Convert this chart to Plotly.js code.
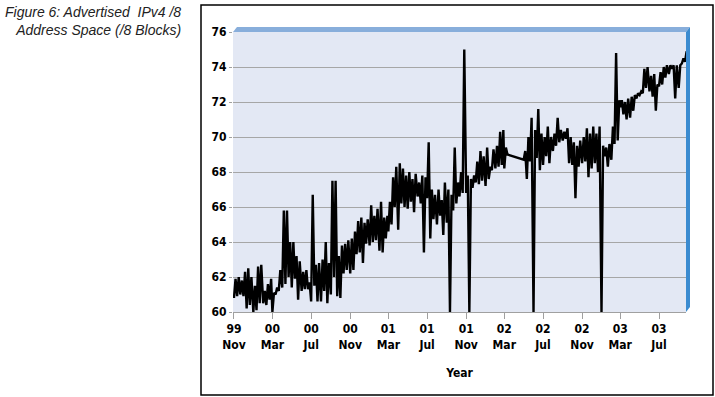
<!DOCTYPE html>
<html>
<head>
<meta charset="utf-8">
<script src="https://cdn.plot.ly/plotly-3.0.1.min.js"></script>
<style>html,body{margin:0;padding:0;background:#fff;}#chart{width:715px;height:397px;}</style>
</head>
<body>
<div id="chart"></div>
<script>
// Months covered by the series (3 samples per month: days 01, 11, 21)
var months = ["1999-11","1999-12","2000-01","2000-02","2000-03","2000-04","2000-05","2000-06","2000-07","2000-08","2000-09","2000-10",
  "2000-11","2000-12","2001-01","2001-02","2001-03","2001-04","2001-05","2001-06","2001-07","2001-08","2001-09","2001-10",
  "2001-11","2001-12","2002-01","2002-02","2002-03","2002-04","2002-05","2002-06","2002-07","2002-08","2002-09","2002-10",
  "2002-11","2002-12","2003-01","2003-02","2003-03","2003-04","2003-05","2003-06","2003-07","2003-08","2003-09"];
var sampleDays = ["01","11","21"];

// Low / high of advertised /8 blocks in each ~10-day period
var lows = [
  60.8,60.9,61.0, 60.9,60.2,60.4, 60.0,60.1,60.5, 60.5,60.4,60.7, 60.0,61.0,61.2, 61.4,61.6,62.0,
  61.4,61.9,60.7, 61.2,61.3,61.3, 60.6,61.5,60.6, 60.6,61.2,60.5, 61.0,62.0,60.9, 60.8,62.2,62.4,
  62.2,62.4,63.3, 63.4,62.8,63.9, 63.8,64.0,64.1, 63.5,63.4,64.2, 64.6,65.0,66.0, 64.7,66.2,66.0,
  65.9,66.3,65.7, 66.6,66.2,63.4, 66.5,64.2,65.3, 65.0,65.5,64.4, 65.1,60.0,65.8, 66.2,66.6,66.8,
  66.8,60.0,67.1, 67.4,67.3,67.5, 67.2,67.6,68.1, 68.2,68.3,68.4, 68.2,69.0,null, null,null,null,
  68.7,67.6,68.6, 60.0,68.8,68.1, 68.4,68.9,68.5, 69.2,69.5,69.7, 69.8,69.9,68.5, 68.4,66.5,68.3,
  68.5,68.6,67.7, 68.2,68.5,68.0, 60.0,68.9,68.3, 68.7,69.6,69.8, 71.7,71.3,71.0, 71.1,71.5,72.2,
  72.4,72.5,72.8, 72.6,72.3,71.5, 72.9,73.0,73.4, 73.6,73.9,72.2, 72.8,74.2,74.3];
var highs = [
  61.9,62.0,61.8, 62.3,62.5,62.0, 61.5,62.6,62.7, 61.2,61.6,61.9, 61.1,61.4,62.4, 65.8,65.8,64.0,
  64.0,63.2,62.9, 62.3,62.4,61.7, 66.7,62.7,62.8, 63.0,64.0,62.8, 67.5,67.5,63.2, 63.8,63.9,64.1,
  64.2,64.6,65.2, 65.4,65.1,65.3, 66.1,65.5,65.9, 66.3,65.4,65.5, 66.3,67.7,68.3, 68.5,68.2,67.8,
  68.0,67.6,67.9, 67.4,67.8,67.7, 69.7,67.0,66.7, 67.0,66.4,67.4, 67.0,66.7,69.4, 67.4,68.0,75.0,
  67.8,67.6,67.8, 68.6,69.2,68.9, 69.4,68.3,69.3, 69.5,70.3,70.4, 69.4,null,null, null,null,null,
  69.2,70.0,71.1, 70.4,71.6,70.2, 70.0,70.6,70.0, 70.2,71.1,70.4, 70.3,70.5,70.0, 69.7,69.5,69.8,
  70.0,70.5,70.2, 70.6,70.2,70.6, 69.5,69.4,69.6, 70.6,74.8,72.1, 72.1,72.0,72.2, 72.3,72.4,72.5,
  72.6,73.9,74.0, 73.5,73.6,73.0, 73.7,74.0,74.1, 74.1,74.1,74.1, 74.1,74.5,74.9];

var tickDates = ["1999-11-01","2000-03-01","2000-07-01","2000-11-01","2001-03-01","2001-07-01",
  "2001-11-01","2002-03-01","2002-07-01","2002-11-01","2003-03-01","2003-07-01"];
var tickLabels = ["99<br>Nov","00<br>Mar","00<br>Jul","00<br>Nov","01<br>Mar","01<br>Jul",
  "01<br>Nov","02<br>Mar","02<br>Jul","02<br>Nov","03<br>Mar","03<br>Jul"];

// Build the trace: low at the start of each period, high a few days later
var xs = [], ys = [];
var k = 0;
months.forEach(function (m) {
  sampleDays.forEach(function (d) {
    var t0 = new Date(m + "-" + d + "T00:00:00Z");
    var t1 = new Date(t0.getTime() + 5 * 86400000);
    xs.push(t0.toISOString().slice(0, 10)); ys.push(lows[k]);
    xs.push(t1.toISOString().slice(0, 10)); ys.push(highs[k]);
    k++;
  });
});

var fontFam = "'DejaVu Sans Condensed','Liberation Sans Narrow','Arial Narrow',sans-serif";
var PW = 453, PH = 280;

var trace = {
  x: xs, y: ys, type: "scatter", mode: "lines",
  line: {color: "#000", width: 2.4}, connectgaps: true, hoverinfo: "skip"
};

var layout = {
  width: 715, height: 397,
  margin: {l: 233, r: 29, t: 32, b: 85, pad: 0},
  paper_bgcolor: "#ffffff",
  plot_bgcolor: "#e3e8f4",
  showlegend: false,
  xaxis: {
    type: "date",
    range: ["1999-10-29", "2003-09-24"],
    tickvals: tickDates, ticktext: tickLabels,
    ticks: "outside", ticklen: 6, tickcolor: "#a0a0a0", tickwidth: 1,
    showgrid: false, zeroline: false,
    showline: true, linecolor: "#a0a0a0", linewidth: 1,
    tickfont: {family: fontFam, size: 12, color: "#000", weight: "bold"},
    title: {text: "Year", font: {family: fontFam, size: 12, color: "#000", weight: "bold"}, standoff: 17}
  },
  yaxis: {
    range: [60, 76], dtick: 2, tick0: 60,
    ticks: "outside", ticklen: 3, tickcolor: "#a0a0a0",
    showgrid: true, gridcolor: "#a6a6a6", gridwidth: 1,
    zeroline: false, showline: false,
    tickfont: {family: fontFam, size: 12, color: "#000", weight: "bold"}
  },
  shapes: [
    // outer frame
    {type: "rect", xref: "paper", yref: "paper",
     x0: (201 - 233) / PW, x1: (713 - 233) / PW, y0: (312 - 395) / PH, y1: (312 - 5) / PH,
     line: {color: "#000", width: 1.5}, fillcolor: "rgba(0,0,0,0)", layer: "below"},
    // top 3D band
    {type: "path", xref: "paper", yref: "paper",
     path: "M 0 1 L " + (4 / PW) + " " + (1 + 5 / PH) + " L " + (1 + 4 / PW) + " " + (1 + 5 / PH) + " L 1 1 Z",
     fillcolor: "#88aedb", line: {width: 0}, layer: "above"},
    // right 3D band
    {type: "path", xref: "paper", yref: "paper",
     path: "M 1 0 L 1 1 L " + (1 + 4 / PW) + " " + (1 + 5 / PH) + " L " + (1 + 4 / PW) + " " + (5 / PH) + " Z",
     fillcolor: "#3b8bd0", line: {width: 0}, layer: "above"}
  ],
  annotations: [
    {xref: "paper", yref: "paper", x: (183 - 233) / PW, y: (312 - 2) / PH,
     xanchor: "right", yanchor: "top", align: "right", showarrow: false,
     text: "Figure 6: Advertised  IPv4 /8<br>Address Space (/8 Blocks)",
     font: {family: "'Liberation Sans','Arial',sans-serif", size: 14, color: "#222", style: "italic"}}
  ]
};

Plotly.newPlot("chart", [trace], layout, {staticPlot: true, displayModeBar: false});
</script>
</body>
</html>
